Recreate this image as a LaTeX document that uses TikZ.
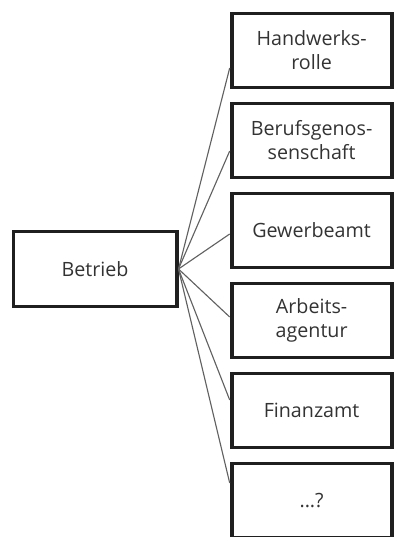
\documentclass[tikz,border=0pt]{standalone}
\usepackage{fontspec}
\setmainfont{Open Sans}
\usepackage{tikz}

\begin{document}
\begin{tikzpicture}
                                [
                                    kasten/.style = {draw=black!88, shape=rectangle, minimum height=1.85cm, minimum width=4cm, line width=2.7pt, align=center, text=black!80, font=\fontsize{14}{17}\selectfont, inner sep=0pt},
                                    linie/.style = {draw=black!62, line width=0.8pt},
                                ]
                                \useasboundingbox (0,0) rectangle (9.85,13.425);

                                \node[kasten, minimum width=4.08cm, minimum height=1.875cm] (betr) at (2.375,6.7) {Betrieb};

                                \node[kasten] (ziel1) at (7.79,12.1625) {Handwerks-\\rolle};
                                \node[kasten] (ziel2) at (7.79,9.9125)  {Berufsgenos-\\senschaft};
                                \node[kasten] (ziel3) at (7.79,7.6625)  {Gewerbeamt};
                                \node[kasten] (ziel4) at (7.79,5.4125)  {Arbeits-\\agentur};
                                \node[kasten] (ziel5) at (7.79,3.1625)  {Finanzamt};
                                \node[kasten] (ziel6) at (7.79,0.9125)  {...?};

                                \draw [linie] (betr.east) -- ([yshift=-0.4375cm]ziel1.west);
                                \draw [linie] (betr.east) -- ([yshift=-0.2625cm]ziel2.west);
                                \draw [linie] (betr.east) -- ([yshift=-0.0875cm]ziel3.west);
                                \draw [linie] (betr.east) -- ([yshift=0.0875cm]ziel4.west);
                                \draw [linie] (betr.east) -- ([yshift=0.2625cm]ziel5.west);
                                \draw [linie] (betr.east) -- ([yshift=0.4375cm]ziel6.west);
                            \end{tikzpicture}
\end{document}
